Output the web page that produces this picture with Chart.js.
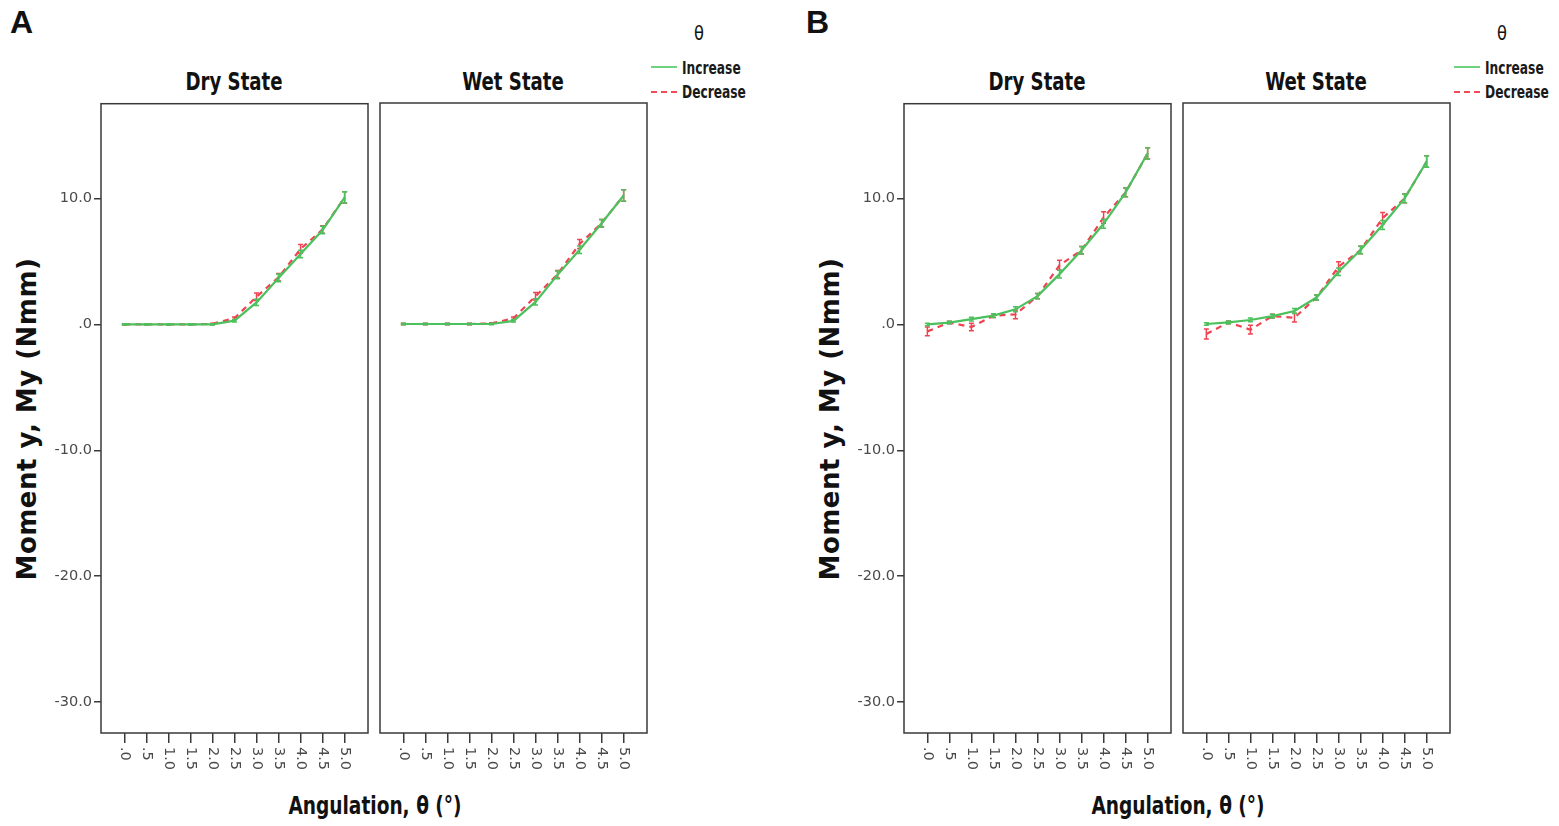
<!DOCTYPE html>
<html lang="en">
<head>
    <meta charset="UTF-8">
    <title>Moment y vs Angulation</title>
    <script src="https://cdn.jsdelivr.net/npm/chart.js@4.4.0/dist/chart.umd.min.js"></script>
    <style>
        body { margin: 0; background: #fff; width: 1559px; height: 826px; position: relative; overflow: hidden; }
        canvas { position: absolute; }
        .txt { position: absolute; white-space: nowrap; color: #111; }
        .panel-letter { font: bold 32px "Liberation Sans", Arial, sans-serif; }
        .facet { font: bold 24px "DejaVu Sans Condensed", sans-serif; transform: translate(-50%, -50%) scaleX(0.84); }
        .xtitle { font: bold 24px "DejaVu Sans Condensed", sans-serif; transform: translate(-50%, -50%) scaleX(0.86); }
        .ytitle { font: bold 26px "DejaVu Sans", sans-serif; transform: translate(-50%, -50%) rotate(-90deg); letter-spacing: 0.5px; }
        .leg-title { font: 20px "DejaVu Sans Condensed", sans-serif; transform: translate(-50%, -50%) scaleX(0.9); }
        .leg-item { font: bold 17px "DejaVu Sans Condensed", sans-serif; transform-origin: left center; transform: translateY(-50%) scaleX(0.8); color: #1a1a1a; }
        .leg-line { position: absolute; height: 0; width: 26px; }
    </style>
</head>
<body>
<div class="txt panel-letter" style="left:10px;top:4px;">A</div>
<div class="txt panel-letter" style="left:806px;top:4px;">B</div>

<div class="txt ytitle" style="left:27px;top:419px;">Moment y, My (Nmm)</div>
<div class="txt ytitle" style="left:830px;top:419px;">Moment y, My (Nmm)</div>

<div class="txt facet" style="left:234px;top:82px;">Dry State</div>
<div class="txt facet" style="left:513px;top:82px;">Wet State</div>
<div class="txt facet" style="left:1037px;top:82px;">Dry State</div>
<div class="txt facet" style="left:1316px;top:82px;">Wet State</div>

<div class="txt xtitle" style="left:375px;top:806px;">Angulation, θ (°)</div>
<div class="txt xtitle" style="left:1178px;top:806px;">Angulation, θ (°)</div>

<!-- legends -->
<div class="txt leg-title" style="left:699px;top:33px;">θ</div>
<div class="leg-line" style="left:651px;top:66px;border-top:2.5px solid #6fd27f;"></div>
<div class="txt leg-item" style="left:682px;top:68px;">Increase</div>
<div class="leg-line" style="left:651px;top:91px;border-top:2.5px dashed #f04c58;"></div>
<div class="txt leg-item" style="left:682px;top:92px;">Decrease</div>

<div class="txt leg-title" style="left:1502px;top:33px;">θ</div>
<div class="leg-line" style="left:1454px;top:66px;border-top:2.5px solid #6fd27f;"></div>
<div class="txt leg-item" style="left:1485px;top:68px;">Increase</div>
<div class="leg-line" style="left:1454px;top:91px;border-top:2.5px dashed #f04c58;"></div>
<div class="txt leg-item" style="left:1485px;top:92px;">Decrease</div>

<canvas id="aDry"></canvas>
<canvas id="aWet"></canvas>
<canvas id="bDry"></canvas>
<canvas id="bWet"></canvas>

<script>
// angulation steps and axis ticks
const angles = [0, 0.5, 1.0, 1.5, 2.0, 2.5, 3.0, 3.5, 4.0, 4.5, 5.0];
const yTicks = [-30, -20, -10, 0, 10];

// A - dry state
const aDryInc = [0, 0, 0, 0, 0, 0.3, 1.75, 3.7, 5.6, 7.5, 10.1];
const aDryDec = [0, 0, 0, 0, 0.05, 0.5, 2.2, 3.75, 6.0, 7.55, 10.1];
const aDryIncErr = [0.05, 0.05, 0.05, 0.05, 0.05, 0.1, 0.25, 0.3, 0.3, 0.3, 0.45];
const aDryDecErr = [0.05, 0.05, 0.05, 0.05, 0.05, 0.1, 0.3, 0.3, 0.35, 0.3, 0.45];
// A - wet state
const aWetInc = [0, 0, 0, 0, 0, 0.25, 1.75, 3.9, 5.9, 8.0, 10.2];
const aWetDec = [0, 0, 0, 0, 0.05, 0.45, 2.2, 3.95, 6.35, 8.0, 10.2];
const aWetIncErr = [0.05, 0.05, 0.05, 0.05, 0.05, 0.1, 0.25, 0.3, 0.3, 0.3, 0.45];
const aWetDecErr = [0.05, 0.05, 0.05, 0.05, 0.05, 0.1, 0.3, 0.3, 0.35, 0.3, 0.45];
// B - dry state
const bDryInc = [0, 0.15, 0.42, 0.7, 1.2, 2.25, 4.0, 5.9, 8.0, 10.5, 13.6];
const bDryDec = [-0.55, 0.15, -0.2, 0.7, 0.8, 2.25, 4.7, 5.9, 8.5, 10.5, 13.6];
const bDryIncErr = [0.1, 0.1, 0.15, 0.15, 0.2, 0.2, 0.3, 0.3, 0.35, 0.35, 0.45];
const bDryDecErr = [0.35, 0.1, 0.3, 0.15, 0.35, 0.2, 0.4, 0.3, 0.45, 0.35, 0.45];
// B - wet state
const bWetInc = [0, 0.13, 0.32, 0.63, 1.03, 2.1, 4.15, 5.87, 7.86, 9.97, 12.9];
const bWetDec = [-0.8, 0.13, -0.45, 0.63, 0.5, 2.1, 4.55, 5.87, 8.4, 9.97, 12.9];
const bWetIncErr = [0.1, 0.1, 0.15, 0.15, 0.2, 0.2, 0.3, 0.3, 0.35, 0.35, 0.45];
const bWetDecErr = [0.4, 0.1, 0.35, 0.15, 0.35, 0.2, 0.4, 0.3, 0.45, 0.35, 0.45];

const GREEN = '#4cc05c';
const RED = '#ef4352';
const FRAME = '#3a3a3a';
const TICK_FONT = '14.5px "DejaVu Sans", sans-serif';
const PLOT_TOP = 103, PLOT_W = 267, PLOT_H = 630;

// SPSS style numbers: ".5", ".0", "-10.0"
function fmt(v) {
    return v.toFixed(1).replace(/^(-?)0\./, '$1.');
}

const errorBars = {
    id: 'errorBars',
    afterDatasetDraw(chart, args) {
        const ds = chart.data.datasets[args.index];
        if (!ds.errors) return;
        const ctx = chart.ctx, y = chart.scales.y, x = chart.scales.x;
        ctx.save();
        ctx.strokeStyle = ds.borderColor;
        ctx.lineWidth = 1.5;
        ds.data.forEach((p, i) => {
            const e = ds.errors[i];
            const px = x.getPixelForValue(p.x);
            const top = y.getPixelForValue(p.y + e), bot = y.getPixelForValue(p.y - e);
            ctx.beginPath();
            ctx.moveTo(px, top); ctx.lineTo(px, bot);
            ctx.moveTo(px - 2.5, top); ctx.lineTo(px + 2.5, top);
            ctx.moveTo(px - 2.5, bot); ctx.lineTo(px + 2.5, bot);
            ctx.stroke();
        });
        ctx.restore();
    }
};

const frameAndLabels = {
    id: 'frameAndLabels',
    afterDraw(chart) {
        const ctx = chart.ctx, a = chart.chartArea, xs = chart.scales.x;
        ctx.save();
        ctx.strokeStyle = FRAME;
        ctx.lineWidth = 1.5;
        ctx.strokeRect(a.left, a.top, a.right - a.left, a.bottom - a.top);
        // x tick labels read top to bottom
        ctx.fillStyle = '#4a4a4a';
        ctx.font = TICK_FONT;
        ctx.textAlign = 'left';
        ctx.textBaseline = 'middle';
        xs.ticks.forEach(t => {
            const px = xs.getPixelForValue(t.value);
            ctx.save();
            ctx.translate(px, a.bottom + 14);
            ctx.rotate(Math.PI / 2);
            ctx.fillText(fmt(t.value), 0, 0);
            ctx.restore();
        });
        ctx.restore();
    }
};

function makePanel(id, plotLeft, inc, dec, incErr, decErr, showY) {
    const padL = showY ? 66 : 2, padR = 6, padT = 10, padB = 55;
    const cv = document.getElementById(id);
    cv.width = padL + PLOT_W + padR;
    cv.height = padT + PLOT_H + padB;
    cv.style.left = (plotLeft - padL) + 'px';
    cv.style.top = (PLOT_TOP - padT) + 'px';

    const pts = arr => angles.map((a, i) => ({ x: a, y: arr[i] }));

    new Chart(cv.getContext('2d'), {
        type: 'line',
        data: {
            datasets: [
                { label: 'Increase', data: pts(inc), errors: incErr, borderColor: GREEN, borderWidth: 2.2, pointRadius: 0, tension: 0 },
                { label: 'Decrease', data: pts(dec), errors: decErr, borderColor: RED, borderWidth: 2.2, borderDash: [6, 5], pointRadius: 0, tension: 0 }
            ]
        },
        options: {
            responsive: false,
            animation: false,
            devicePixelRatio: 1,
            layout: { padding: { top: padT, right: padR, left: 0, bottom: 0 } },
            plugins: { legend: { display: false }, tooltip: { enabled: false } },
            scales: {
                x: {
                    type: 'linear', min: -0.53, max: 5.53,
                    afterBuildTicks: s => { s.ticks = angles.map(v => ({ value: v })); },
                    afterFit: s => { s.height = padB; },
                    grid: { drawOnChartArea: false, drawTicks: true, tickLength: 10, color: FRAME, lineWidth: 1.5 },
                    border: { display: false },
                    ticks: { display: false }
                },
                y: {
                    type: 'linear', min: -32.46, max: 17.54,
                    afterBuildTicks: s => { s.ticks = yTicks.map(v => ({ value: v })); },
                    afterFit: s => { s.width = padL; },
                    grid: { drawOnChartArea: false, drawTicks: showY, tickLength: 7, color: FRAME, lineWidth: 1.5 },
                    border: { display: false },
                    ticks: {
                        display: showY, padding: 2, color: '#4a4a4a',
                        font: { family: '"DejaVu Sans", sans-serif', size: 14.5 },
                        callback: v => fmt(v)
                    }
                }
            }
        },
        plugins: [errorBars, frameAndLabels]
    });
}

makePanel('aDry', 101, aDryInc, aDryDec, aDryIncErr, aDryDecErr, true);
makePanel('aWet', 380, aWetInc, aWetDec, aWetIncErr, aWetDecErr, false);
makePanel('bDry', 904, bDryInc, bDryDec, bDryIncErr, bDryDecErr, true);
makePanel('bWet', 1183, bWetInc, bWetDec, bWetIncErr, bWetDecErr, false);
</script>
</body>
</html>
